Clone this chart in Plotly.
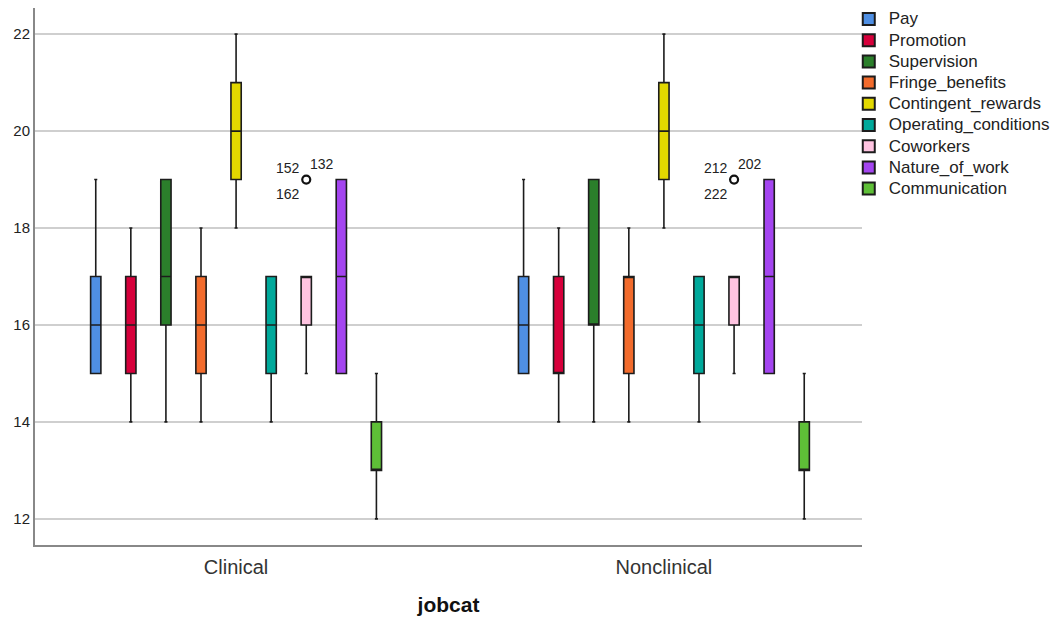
import plotly.graph_objects as go

# Job categories on the x axis
jobcats = ["Clinical", "Nonclinical"]

# Satisfaction facets (one box per facet in each job category)
facets = ["Pay", "Promotion", "Supervision", "Fringe_benefits", "Contingent_rewards",
          "Operating_conditions", "Coworkers", "Nature_of_work", "Communication"]

colors = ["#4f8fe3", "#d6003b", "#2b7f2b", "#f26b2c", "#e2d800",
          "#00a99b", "#ffc4e1", "#a445f0", "#5ebf37"]

# Box statistics per facet: [Clinical, Nonclinical]
lower_whisker = {
    "Pay": [15, 15], "Promotion": [14, 14], "Supervision": [14, 14],
    "Fringe_benefits": [14, 14], "Contingent_rewards": [18, 18],
    "Operating_conditions": [14, 14], "Coworkers": [15, 15],
    "Nature_of_work": [15, 15], "Communication": [12, 12],
}
q1_vals = {
    "Pay": [15, 15], "Promotion": [15, 15], "Supervision": [16, 16],
    "Fringe_benefits": [15, 15], "Contingent_rewards": [19, 19],
    "Operating_conditions": [15, 15], "Coworkers": [16, 16],
    "Nature_of_work": [15, 15], "Communication": [13, 13],
}
median_vals = {
    "Pay": [16, 16], "Promotion": [16, 15], "Supervision": [17, 16],
    "Fringe_benefits": [16, 17], "Contingent_rewards": [20, 20],
    "Operating_conditions": [16, 16], "Coworkers": [17, 17],
    "Nature_of_work": [17, 17], "Communication": [13, 13],
}
q3_vals = {
    "Pay": [17, 17], "Promotion": [17, 17], "Supervision": [19, 19],
    "Fringe_benefits": [17, 17], "Contingent_rewards": [21, 21],
    "Operating_conditions": [17, 17], "Coworkers": [17, 17],
    "Nature_of_work": [19, 19], "Communication": [14, 14],
}
upper_whisker = {
    "Pay": [19, 19], "Promotion": [18, 18], "Supervision": [19, 19],
    "Fringe_benefits": [18, 18], "Contingent_rewards": [22, 22],
    "Operating_conditions": [17, 17], "Coworkers": [17, 17],
    "Nature_of_work": [19, 19], "Communication": [15, 15],
}

# Outliers (Coworkers) with their case numbers
outlier_facet = "Coworkers"
outlier_values = [19, 19]
outlier_cases = [["152", "132", "162"], ["212", "202", "222"]]

# Layout of boxes within each category (in category units)
slot = 0.082
box_w = 0.024


def box_x(g, i):
    return g + (i - (len(facets) - 1) / 2) * slot


fig = go.Figure()

for i, (f, c) in enumerate(zip(facets, colors)):
    fig.add_trace(go.Box(
        # larger label text inside compact legend rows
        name=f'<span style="font-size:17px">{f}</span>',
        x=[box_x(g, i) for g in range(len(jobcats))],
        q1=q1_vals[f], median=median_vals[f], q3=q3_vals[f],
        lowerfence=lower_whisker[f], upperfence=upper_whisker[f],
        width=box_w,
        whiskerwidth=0.3,
        fillcolor=c,
        line=dict(color="#1c1c1c", width=1.6),
        boxpoints=False,
        hoverinfo="skip",
    ))

oi = facets.index(outlier_facet)
ox = [box_x(g, oi) for g in range(len(jobcats))]
fig.add_trace(go.Scatter(
    x=ox, y=outlier_values, mode="markers", showlegend=False,
    marker=dict(symbol="circle-open", size=8, color="#111111", line=dict(width=2.2)),
    hoverinfo="skip",
))

for g in range(len(jobcats)):
    labels = outlier_cases[g]
    # upper-left, upper-right, lower-left around the outlier circle
    placements = [(-18, -12), (16, -16), (-18, 14)]
    for lab, (dx, dy) in zip(labels, placements):
        fig.add_annotation(
            x=ox[g], y=outlier_values[g], text=lab, showarrow=False,
            xshift=dx, yshift=-dy,
            font=dict(family="Arial, Liberation Sans", size=14, color="#222222"),
        )

fig.update_layout(
    width=1054, height=618,
    margin=dict(l=35, r=192, t=8, b=73, autoexpand=False),
    paper_bgcolor="white", plot_bgcolor="white",
    font=dict(family="Arial, Liberation Sans", color="#222222"),
    legend=dict(
        x=0.984, xanchor="left", y=1.0086, yanchor="top",
        font=dict(size=14, color="#222222"),
        tracegroupgap=0, itemsizing="constant",
        bgcolor="rgba(0,0,0,0)",
    ),
    showlegend=True,
)

fig.update_xaxes(
    range=[-0.47, 1.463],
    tickvals=list(range(len(jobcats))), ticktext=jobcats,
    tickfont=dict(size=20, color="#333333"),
    showgrid=False, zeroline=False,
    showline=True, linecolor="#888888", linewidth=2,
    ticks="outside", ticklen=3, tickcolor="rgba(0,0,0,0)",
    title=dict(text="<b>jobcat</b>", font=dict(size=21, color="#111111"), standoff=20),
)
fig.update_yaxes(
    range=[11.46, 22.54],
    tickvals=[12, 14, 16, 18, 20, 22],
    tickfont=dict(size=15, color="#222222"),
    showgrid=True, gridcolor="#cfcfcf", gridwidth=1.5,
    zeroline=False,
    showline=True, linecolor="#888888", linewidth=2,
    ticks="",
)

fig.write_html("out.html")
